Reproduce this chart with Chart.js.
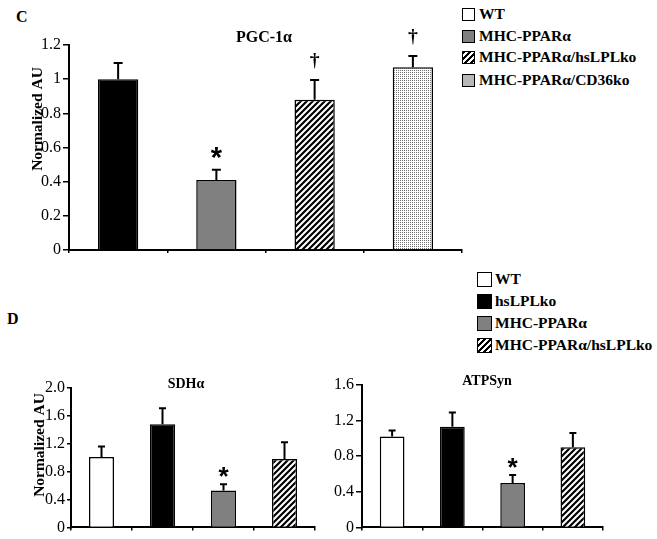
<!DOCTYPE html>
<html>
<head>
<meta charset="utf-8">
<script src="https://cdn.jsdelivr.net/npm/chart.js@4.4.1/dist/chart.umd.min.js"></script>
<style>
    body { margin: 0; background: #fff; width: 657px; height: 539px; position: relative; overflow: hidden;
           font-family: "Liberation Serif", "Times New Roman", serif; font-weight: bold; color: #000; }
    canvas { position: absolute; }
    .panel { position: absolute; font-size: 16px; line-height: 16px; }
    .leg { position: absolute; font-size: 15.5px; line-height: 16px; white-space: nowrap; }
    .box { position: absolute; box-sizing: border-box; border: 1.5px solid #000; }
</style>
</head>
<body>
<div class="panel" style="left:16px;top:9px;">C</div>
<div class="panel" style="left:7px;top:311px;">D</div>
<div id="legendC"></div>
<div id="legendD"></div>
<canvas id="pgcChart" width="470" height="270" style="left:0;top:0;"></canvas>
<canvas id="sdhChart" width="330" height="169" style="left:0;top:370px;"></canvas>
<canvas id="atpChart" width="327" height="169" style="left:330px;top:370px;"></canvas>
<script>
// パネルC: PGC-1α
const groupsC = ['WT', 'MHC-PPARα', 'MHC-PPARα/hsLPLko', 'MHC-PPARα/CD36ko'];
const pgcValues = [1.0, 0.41, 0.88, 1.07];
const pgcErrors = [0.095, 0.06, 0.115, 0.065];
const pgcMarks = ['', '*', '†', '†'];
const yTicksC = ['0', '0.2', '0.4', '0.6', '0.8', '1', '1.2'];

// パネルD: SDHα / ATPSyn
const groupsD = ['WT', 'hsLPLko', 'MHC-PPARα', 'MHC-PPARα/hsLPLko'];
const sdhValues = [1.01, 1.48, 0.53, 0.98];
const sdhErrors = [0.15, 0.23, 0.09, 0.24];
const sdhMarks = ['', '', '*', ''];
const yTicksSdh = ['0', '0.4', '0.8', '1.2', '1.6', '2.0'];
const atpValues = [1.02, 1.13, 0.50, 0.90];
const atpErrors = [0.07, 0.16, 0.09, 0.16];
const atpMarks = ['', '', '*', ''];
const yTicksAtp = ['0', '0.4', '0.8', '1.2', '1.6'];

const SERIF = '"Liberation Serif", "Times New Roman", serif';

// 塗りパターン
function hatchPattern() {
    const c = document.createElement('canvas');
    c.width = 6; c.height = 6;
    const g = c.getContext('2d');
    g.fillStyle = '#fff';
    g.fillRect(0, 0, 6, 6);
    g.strokeStyle = '#000';
    g.lineWidth = 2.2;
    g.beginPath();
    g.moveTo(-1, 7); g.lineTo(7, -1);
    g.moveTo(-4, 4); g.lineTo(4, -4);
    g.moveTo(2, 10); g.lineTo(10, 2);
    g.stroke();
    return g.createPattern(c, 'repeat');
}

function dotPattern() {
    const c = document.createElement('canvas');
    c.width = 2; c.height = 2;
    const g = c.getContext('2d');
    g.fillStyle = '#fff';
    g.fillRect(0, 0, 2, 2);
    g.fillStyle = '#6e6e6e';
    g.fillRect(0, 0, 1, 1);
    return g.createPattern(c, 'repeat');
}

const fills = {
    white: '#ffffff',
    black: '#000000',
    gray: '#808080',
    hatch: hatchPattern(),
    dots: dotPattern()
};

const legendCss = {
    white: '#fff',
    black: '#000',
    gray: '#808080',
    hatch: 'repeating-linear-gradient(135deg, #000 0 1.8px, #fff 1.8px 4.2px)',
    dots: 'radial-gradient(#666 0.6px, #fff 0.8px) 0 0/2px 2px'
};

function buildLegend(id, items, boxX, boxSize, textX, rows) {
    const el = document.getElementById(id);
    items.forEach((it, i) => {
        const box = document.createElement('div');
        box.className = 'box';
        box.style.cssText = `left:${boxX}px;top:${rows[i] - boxSize / 2}px;width:${boxSize}px;height:${boxSize}px;background:${legendCss[it.fill]};`;
        el.appendChild(box);
        const t = document.createElement('div');
        t.className = 'leg';
        t.style.cssText = `left:${textX}px;top:${rows[i] - 8}px;`;
        t.textContent = it.label;
        el.appendChild(t);
    });
}

buildLegend('legendC', [
    { label: 'WT', fill: 'white' },
    { label: 'MHC-PPARα', fill: 'gray' },
    { label: 'MHC-PPARα/hsLPLko', fill: 'hatch' },
    { label: 'MHC-PPARα/CD36ko', fill: 'dots' }
], 462, 13, 479, [14, 36, 57, 80]);

buildLegend('legendD', [
    { label: 'WT', fill: 'white' },
    { label: 'hsLPLko', fill: 'black' },
    { label: 'MHC-PPARα', fill: 'gray' },
    { label: 'MHC-PPARα/hsLPLko', fill: 'hatch' }
], 477, 15, 495, [279, 301, 323, 345]);

// グリフの高さから文字サイズを決める
function glyphFont(ctx, ch, family, targetH) {
    ctx.font = `bold 100px ${family}`;
    const m = ctx.measureText(ch);
    const h = m.actualBoundingBoxAscent + m.actualBoundingBoxDescent;
    return 100 * targetH / h;
}

function drawGlyphCentered(ctx, ch, family, targetH, x, cy) {
    const size = glyphFont(ctx, ch, family, targetH);
    ctx.font = `bold ${size}px ${family}`;
    const m = ctx.measureText(ch);
    ctx.textAlign = 'center';
    ctx.textBaseline = 'alphabetic';
    ctx.fillText(ch, x, cy + (m.actualBoundingBoxAscent - m.actualBoundingBoxDescent) / 2);
}

function makeChart(id, cfg) {
    const canvas = document.getElementById(id);
    const extras = {
        id: 'extras',
        afterDatasetsDraw(chart) {
            const ctx = chart.ctx;
            const y = chart.scales.y;
            const meta = chart.getDatasetMeta(0);
            ctx.save();
            // エラーバー(上側のみ)
            ctx.strokeStyle = '#000';
            ctx.fillStyle = '#000';
            ctx.lineWidth = 2;
            meta.data.forEach((bar, i) => {
                const top = y.getPixelForValue(cfg.values[i] + cfg.errors[i]);
                ctx.beginPath();
                ctx.moveTo(bar.x, bar.y);
                ctx.lineTo(bar.x, top);
                ctx.moveTo(bar.x - cfg.cap / 2, top);
                ctx.lineTo(bar.x + cfg.cap / 2, top);
                ctx.stroke();
                // 有意差マーク
                const mark = cfg.marks[i];
                if (mark === '*') {
                    drawGlyphCentered(ctx, '*', '"Liberation Sans", Arial, sans-serif', cfg.starH, bar.x, top - cfg.starGap);
                } else if (mark === '†') {
                    drawGlyphCentered(ctx, '†', SERIF, cfg.daggerH, bar.x, top - cfg.daggerGap);
                }
            });
            // タイトル
            ctx.font = `bold ${cfg.titleSize}px ${SERIF}`;
            ctx.textAlign = 'center';
            ctx.textBaseline = 'alphabetic';
            ctx.fillText(cfg.title, cfg.titleX, cfg.titleY);
            // 縦軸タイトル
            if (cfg.yTitle) {
                ctx.translate(cfg.yTitleX, cfg.yTitleY);
                ctx.rotate(-Math.PI / 2);
                ctx.font = `bold 15.5px ${SERIF}`;
                ctx.textBaseline = 'middle';
                ctx.fillText(cfg.yTitle, 0, 0);
            }
            ctx.restore();
        }
    };
    return new Chart(canvas.getContext('2d'), {
        type: 'bar',
        data: {
            labels: cfg.labels,
            datasets: [{
                data: cfg.values,
                backgroundColor: cfg.fills.map(f => fills[f]),
                borderColor: '#000',
                borderWidth: 1.5,
                barPercentage: cfg.barPct,
                categoryPercentage: 1
            }]
        },
        options: {
            responsive: false,
            animation: false,
            layout: { padding: { left: 0, top: cfg.area.top, right: canvas.width - cfg.area.right, bottom: 0 } },
            plugins: { legend: { display: false }, tooltip: { enabled: false }, title: { display: false } },
            scales: {
                x: {
                    afterFit: s => { s.height = canvas.height - cfg.area.bottom; },
                    ticks: { display: false },
                    grid: { offset: true, drawOnChartArea: false, drawTicks: true, tickLength: 3, color: '#000', lineWidth: 1.5 },
                    border: { display: true, color: '#000', width: 2 }
                },
                y: {
                    min: 0,
                    max: cfg.max,
                    afterFit: s => { s.width = cfg.area.left; },
                    ticks: {
                        stepSize: cfg.step,
                        padding: 2,
                        color: '#000',
                        font: { family: SERIF, size: 16 },
                        callback: (v, i) => cfg.tickLabels[i]
                    },
                    grid: { drawOnChartArea: false, drawTicks: true, tickLength: cfg.tickLen, color: '#000', lineWidth: 1.5 },
                    border: { display: true, color: '#000', width: 2 }
                }
            }
        },
        plugins: [extras]
    });
}

makeChart('pgcChart', {
    labels: groupsC, values: pgcValues, errors: pgcErrors, marks: pgcMarks,
    fills: ['black', 'gray', 'hatch', 'dots'],
    tickLabels: yTicksC, max: 1.2, step: 0.2, tickLen: 6,
    area: { left: 69, right: 462, top: 45, bottom: 250 },
    barPct: 0.41, cap: 9,
    starH: 11, starGap: 17, daggerH: 16, daggerGap: 19,
    title: 'PGC-1α', titleSize: 16, titleX: 264, titleY: 42,
    yTitle: 'Normalized AU', yTitleX: 38, yTitleY: 119
});

makeChart('sdhChart', {
    labels: groupsD, values: sdhValues, errors: sdhErrors, marks: sdhMarks,
    fills: ['white', 'black', 'gray', 'hatch'],
    tickLabels: yTicksSdh, max: 2.0, step: 0.4, tickLen: 4,
    area: { left: 71, right: 315, top: 18, bottom: 158 },
    barPct: 0.41, cap: 7,
    starH: 10, starGap: 12,
    title: 'SDHα', titleSize: 14, titleX: 186, titleY: 18,
    yTitle: 'Normalized AU', yTitleX: 40, yTitleY: 75
});

makeChart('atpChart', {
    labels: groupsD, values: atpValues, errors: atpErrors, marks: atpMarks,
    fills: ['white', 'black', 'gray', 'hatch'],
    tickLabels: yTicksAtp, max: 1.6, step: 0.4, tickLen: 6,
    area: { left: 32, right: 273, top: 15, bottom: 158 },
    barPct: 0.41, cap: 7,
    starH: 10, starGap: 12,
    title: 'ATPSyn', titleSize: 14, titleX: 157, titleY: 15
});
</script>
</body>
</html>
